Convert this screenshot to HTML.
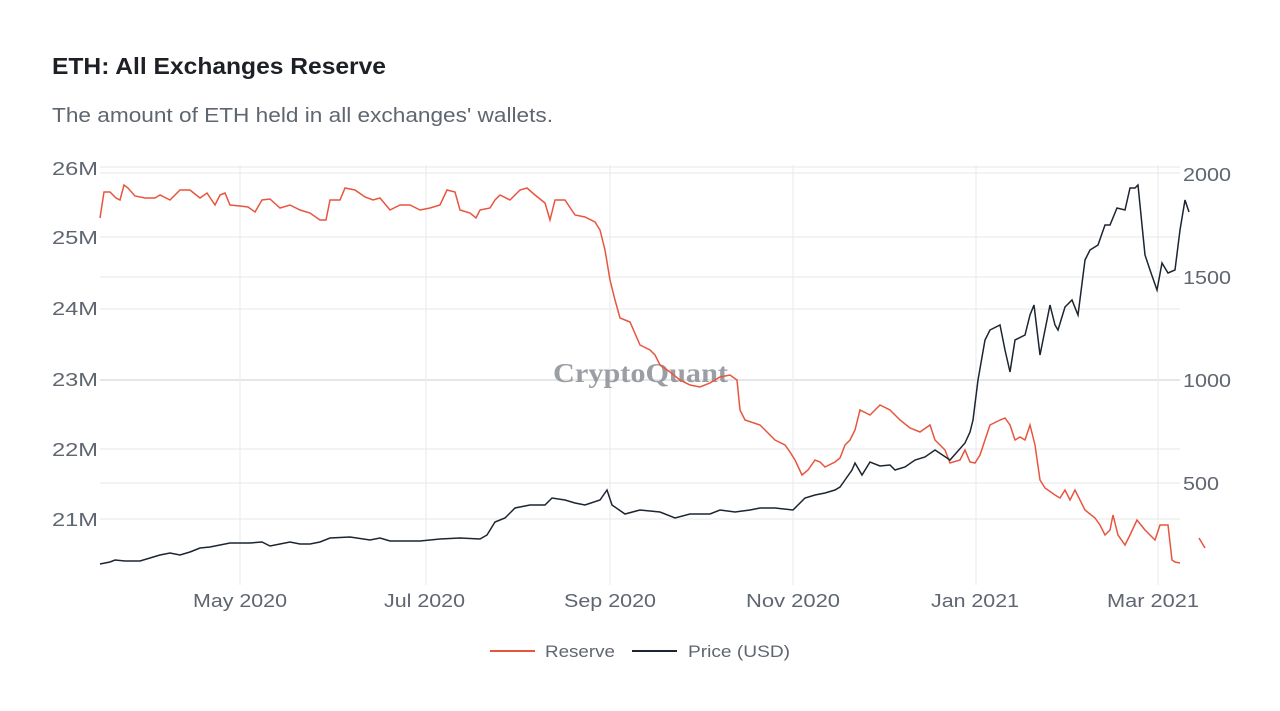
<!DOCTYPE html>
<html><head><meta charset="utf-8"><style>
body{margin:0;background:#fff;width:1280px;height:706px;overflow:hidden;font-family:"Liberation Sans",sans-serif}
</style></head><body>
<svg width="1280" height="706" xmlns="http://www.w3.org/2000/svg" font-family="Liberation Sans, sans-serif">
<text x="52" y="74" font-size="23" font-weight="bold" fill="#1d2126" textLength="334" lengthAdjust="spacingAndGlyphs">ETH: All Exchanges Reserve</text>
<text x="52" y="122" font-size="20" fill="#5f6670" textLength="501" lengthAdjust="spacingAndGlyphs">The amount of ETH held in all exchanges' wallets.</text>
<g stroke="#ececec" stroke-width="1.2">
<line x1="100" y1="167" x2="1180" y2="167"/><line x1="100" y1="173" x2="1180" y2="173"/>
<line x1="100" y1="237" x2="1180" y2="237"/><line x1="100" y1="277" x2="1180" y2="277"/>
<line x1="100" y1="309" x2="1180" y2="309"/><line x1="100" y1="380" x2="1180" y2="380" stroke="#e6e6e6" stroke-width="2"/>
<line x1="100" y1="449" x2="1180" y2="449"/><line x1="100" y1="483" x2="1180" y2="483"/>
<line x1="100" y1="519" x2="1180" y2="519"/>
<line x1="240" y1="165" x2="240" y2="585"/><line x1="426" y1="165" x2="426" y2="585"/>
<line x1="610" y1="165" x2="610" y2="585"/><line x1="793" y1="165" x2="793" y2="585"/>
<line x1="976" y1="165" x2="976" y2="585"/><line x1="1158" y1="165" x2="1158" y2="585"/>
</g>
<g font-size="18" fill="#5f6670" lengthAdjust="spacingAndGlyphs">
<text x="52" y="175" textLength="46" lengthAdjust="spacingAndGlyphs">26M</text><text x="52" y="244" textLength="46" lengthAdjust="spacingAndGlyphs">25M</text><text x="52" y="315" textLength="46" lengthAdjust="spacingAndGlyphs">24M</text>
<text x="52" y="386" textLength="46" lengthAdjust="spacingAndGlyphs">23M</text><text x="52" y="456" textLength="46" lengthAdjust="spacingAndGlyphs">22M</text><text x="52" y="526" textLength="46" lengthAdjust="spacingAndGlyphs">21M</text>
</g>
<g font-size="18" fill="#5f6670">
<text x="1183" y="181" textLength="48" lengthAdjust="spacingAndGlyphs">2000</text><text x="1183" y="284" textLength="48" lengthAdjust="spacingAndGlyphs">1500</text><text x="1183" y="387" textLength="48" lengthAdjust="spacingAndGlyphs">1000</text><text x="1183" y="490" textLength="36" lengthAdjust="spacingAndGlyphs">500</text>
</g>
<g font-size="18" fill="#5f6670">
<text x="193" y="607" textLength="94" lengthAdjust="spacingAndGlyphs">May 2020</text><text x="384" y="607" textLength="81" lengthAdjust="spacingAndGlyphs">Jul 2020</text><text x="564" y="607" textLength="92" lengthAdjust="spacingAndGlyphs">Sep 2020</text>
<text x="746" y="607" textLength="94" lengthAdjust="spacingAndGlyphs">Nov 2020</text><text x="931" y="607" textLength="88" lengthAdjust="spacingAndGlyphs">Jan 2021</text><text x="1107" y="607" textLength="92" lengthAdjust="spacingAndGlyphs">Mar 2021</text>
</g>
<text x="553" y="382" font-family="Liberation Serif, serif" font-size="27" font-weight="bold" fill="#8a8f96" textLength="175" lengthAdjust="spacingAndGlyphs" opacity="0.85">CryptoQuant</text>
<polyline fill="none" stroke="#e8553f" stroke-width="1.5" points="100,218 104,192 110,192 116,198 120,200 124,185 128,188 135,196 145,198 155,198 160,195 170,200 180,190 190,190 200,198 207,193 215,205 220,195 225,193 230,205 240,206 248,207 255,212 262,200 270,199 280,208 290,205 300,210 310,213 320,220 326,220 330,200 340,200 345,188 355,190 365,197 373,200 380,198 390,210 400,205 410,205 420,210 430,208 440,205 447,190 455,192 460,210 470,213 476,218 480,210 490,208 495,200 500,195 510,200 520,190 527,188 535,195 545,203 550,220 555,200 565,200 575,215 585,217 595,222 600,230 605,250 610,280 615,300 620,318 625,320 630,322 640,345 650,350 655,355 660,365 670,372 680,380 690,385 700,387 710,383 720,377 730,375 737,380 740,410 745,420 760,425 765,430 775,440 785,445 790,452 795,460 802,475 808,470 815,460 820,462 825,467 835,462 840,458 845,445 850,440 855,430 860,410 870,415 880,405 890,410 900,420 910,428 920,432 930,425 935,440 945,450 950,463 960,460 965,450 970,462 975,463 980,455 985,440 990,425 1000,420 1005,418 1010,425 1015,440 1020,437 1025,440 1030,425 1035,445 1040,480 1045,488 1055,495 1060,498 1065,490 1070,500 1075,490 1085,510 1095,518 1100,525 1105,535 1110,530 1113,515 1118,535 1125,545 1130,535 1137,520 1145,530 1155,540 1160,525 1168,525 1172,560 1175,562 1180,563"/>
<polyline fill="none" stroke="#e8553f" stroke-width="1.5" points="1199,538 1205,548"/>
<polyline fill="none" stroke="#1c2530" stroke-width="1.5" points="100,564 110,562 115,560 125,561 140,561 150,558 160,555 170,553 180,555 190,552 200,548 210,547 220,545 230,543 240,543 250,543 262,542 270,546 280,544 290,542 300,544 310,544 320,542 330,538 350,537 370,540 380,538 390,541 410,541 420,541 440,539 460,538 480,539 487,535 495,522 505,518 515,508 530,505 545,505 552,498 565,500 575,503 585,505 600,500 607,490 612,505 625,514 640,510 660,512 675,518 690,514 710,514 720,510 735,512 750,510 760,508 775,508 793,510 805,498 815,495 825,493 835,490 840,487 845,480 852,470 855,463 862,475 870,462 880,466 890,465 895,470 905,467 915,460 925,457 935,450 950,460 965,443 970,432 973,420 978,380 985,340 990,330 1000,325 1005,350 1010,372 1015,340 1025,335 1030,315 1034,305 1040,355 1045,330 1050,305 1055,325 1058,330 1065,307 1072,300 1078,315 1085,260 1090,250 1098,245 1105,225 1110,225 1117,208 1125,210 1130,188 1135,188 1138,185 1145,255 1150,270 1157,290 1162,263 1168,273 1175,270 1180,230 1185,200 1189,212"/>
<line x1="490" y1="651" x2="535" y2="651" stroke="#e8553f" stroke-width="2"/>
<text x="545" y="657" font-size="17" fill="#5f6670" textLength="70" lengthAdjust="spacingAndGlyphs">Reserve</text>
<line x1="632" y1="651" x2="677" y2="651" stroke="#1c2530" stroke-width="2"/>
<text x="688" y="657" font-size="17" fill="#5f6670" textLength="102" lengthAdjust="spacingAndGlyphs">Price (USD)</text>
</svg>
</body></html>
